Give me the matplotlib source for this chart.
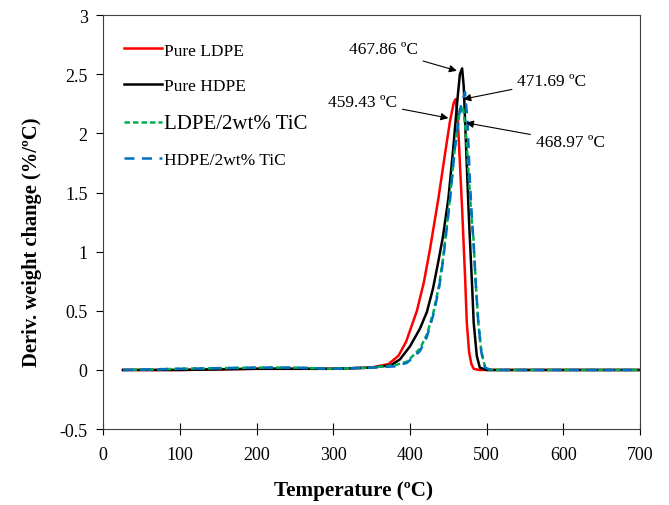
import matplotlib
matplotlib.use("Agg")
import matplotlib.pyplot as plt

# DTG curves
temp_ldpe = [26, 100, 200, 300, 350, 372, 385, 395, 409, 418, 426, 437, 445, 452, 457, 459.4,
             462, 465, 468, 470, 472, 474, 477, 480, 483, 490, 550, 700]
dtg_ldpe = [0.0, 0.0, 0.01, 0.01, 0.02, 0.05, 0.12, 0.24, 0.5, 0.74, 1.02, 1.45, 1.8, 2.1, 2.26, 2.29,
            2.15, 1.75, 1.35, 1.05, 0.75, 0.4, 0.15, 0.05, 0.01, 0.0, 0.0, 0.0]

temp_hdpe = [26, 100, 200, 300, 350, 375, 387, 400, 413, 422, 430, 437, 443, 450, 456, 462, 465,
             467.9, 470, 473, 476, 478, 481, 483, 487, 491, 500, 700]
dtg_hdpe = [0.0, 0.0, 0.01, 0.01, 0.02, 0.04, 0.09, 0.2, 0.35, 0.49, 0.69, 0.92, 1.13, 1.45, 1.85, 2.3, 2.5,
            2.55, 2.4, 1.9, 1.4, 1.11, 0.7, 0.4, 0.12, 0.02, 0.0, 0.0]

temp_ldpe_tic = [26, 100, 200, 250, 300, 350, 380, 396, 413, 422, 431, 438, 443, 452, 458, 464, 469,
                 473, 477, 480, 482.7, 486, 489, 493, 498, 505, 700]
dtg_ldpe_tic = [0.0, 0.01, 0.02, 0.02, 0.01, 0.02, 0.04, 0.07, 0.18, 0.3, 0.5, 0.72, 0.94, 1.45, 1.85, 2.15, 2.23,
                2.0, 1.6, 1.3, 1.11, 0.7, 0.4, 0.15, 0.02, 0.0, 0.0]

temp_hdpe_tic = [26, 100, 200, 250, 300, 350, 380, 396, 413, 422, 431, 438, 443, 452, 458, 465, 471.7,
                 475, 478, 480.5, 483, 486, 489, 493, 498, 505, 700]
dtg_hdpe_tic = [0.0, 0.01, 0.02, 0.02, 0.01, 0.02, 0.03, 0.06, 0.16, 0.28, 0.48, 0.7, 0.92, 1.43, 1.85, 2.2, 2.35,
                2.1, 1.6, 1.3, 1.05, 0.7, 0.4, 0.15, 0.02, 0.0, 0.0]

labels = ["Pure LDPE", "Pure HDPE", "LDPE/2wt% TiC", "HDPE/2wt% TiC"]
peak_texts = ["467.86 ºC", "459.43 ºC", "471.69 ºC", "468.97 ºC"]

plt.rcParams['font.family'] = ['Liberation Serif', 'DejaVu Serif']

fig = plt.figure(figsize=(6.69, 5.06), dpi=100)
ax = fig.add_axes([0.154, 0.150, 0.803, 0.818])

ax.plot(temp_ldpe, dtg_ldpe, color='#ff0000', lw=1.8, label=labels[0])
ax.plot(temp_hdpe, dtg_hdpe, color='black', lw=1.8, label=labels[1])
ax.plot(temp_ldpe_tic, dtg_ldpe_tic, color='#00b050', lw=1.8, ls=(0, (2.2, 1.2)), label=labels[2])
ax.plot(temp_hdpe_tic, dtg_hdpe_tic, color='#0070c0', lw=1.8, ls=(0, (4, 3)), label=labels[3])

ax.set_xlim(0, 700)
ax.set_ylim(-0.5, 3)
ax.set_xticks(range(0, 701, 100))
ax.set_yticks([-0.5, 0, 0.5, 1, 1.5, 2, 2.5, 3])
ax.set_yticklabels(['-0.5', '0', '0.5', '1', '1.5', '2', '2.5', '3'])
ax.tick_params(axis='x', direction='inout', length=8, width=0.8, labelsize=13, pad=8)
ax.tick_params(axis='y', direction='out', length=5, width=0.8, labelsize=13, pad=6)
for s in ax.spines.values():
    s.set_linewidth(0.8)
    s.set_color('#404040')

ax.set_xlabel('Temperature (ºC)', fontsize=15.2, fontweight='bold')
ax.set_ylabel('Deriv. weight change (%/ºC)', fontsize=14.8, fontweight='bold')
ax.xaxis.set_label_coords(0.467, -0.124)
ax.yaxis.set_label_coords(-0.113, 0.453)

leg = ax.legend(loc='upper left', frameon=False, fontsize=12.5, handlelength=2.2,
                handletextpad=0.12, labelspacing=1.12, bbox_to_anchor=(0.01, 0.972))
leg.get_texts()[2].set_fontsize(15)

arrow = dict(arrowstyle='-|>', color='black', lw=0.8, mutation_scale=11, shrinkA=2, shrinkB=0)
ax.annotate(peak_texts[0], xy=(461, 2.53), xytext=(365, 2.71), fontsize=12.5,
            ha='center', va='center', arrowprops=arrow)
ax.annotate(peak_texts[1], xy=(450, 2.13), xytext=(338, 2.27), fontsize=12.5,
            ha='center', va='center', arrowprops=arrow)
ax.annotate(peak_texts[2], xy=(469.5, 2.29), xytext=(585, 2.44), fontsize=12.5,
            ha='center', va='center', arrowprops=arrow)
ax.annotate(peak_texts[3], xy=(473, 2.09), xytext=(609, 1.93), fontsize=12.5,
            ha='center', va='center', arrowprops=arrow)

fig.savefig('out.png', dpi=100)
